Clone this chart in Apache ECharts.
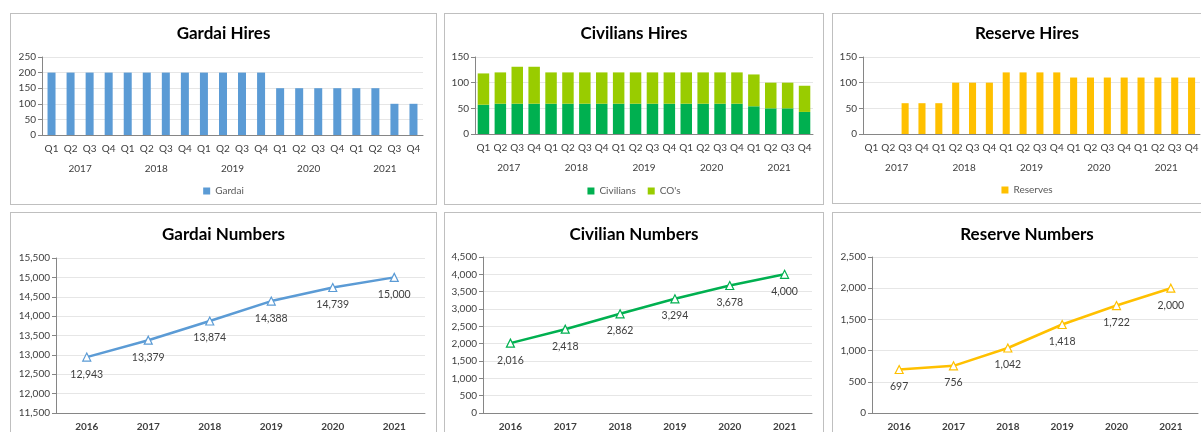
<!DOCTYPE html>
<html>
<head>
<meta charset="utf-8">
<script src="https://cdn.jsdelivr.net/npm/echarts@6/dist/echarts.min.js"></script>
<style>
  html, body { margin: 0; padding: 0; background: #fff; overflow: hidden; width: 1201px; height: 432px; }
  .panel { position: absolute; border: 1px solid #bfbfbf; box-sizing: border-box; background: #fff; }
</style>
</head>
<body>
<div class="panel" id="p1" style="left:10px;top:13px;width:427px;height:192px"></div>
<div class="panel" id="p2" style="left:444px;top:13px;width:380px;height:192px"></div>
<div class="panel" id="p3" style="left:832px;top:13px;width:390px;height:191px"></div>
<div class="panel" id="p4" style="left:10px;top:212px;width:427px;height:240px"></div>
<div class="panel" id="p5" style="left:444px;top:212px;width:380px;height:240px"></div>
<div class="panel" id="p6" style="left:832px;top:212px;width:390px;height:240px"></div>
<script>
// data
var quarters = ['Q1','Q2','Q3','Q4','Q1','Q2','Q3','Q4','Q1','Q2','Q3','Q4','Q1','Q2','Q3','Q4','Q1','Q2','Q3','Q4'];
var hireYears = ['2017','2018','2019','2020','2021'];
var gardaiHires = [200,200,200,200, 200,200,200,200, 200,200,200,200, 150,150,150,150, 150,150,100,100];
var civilianHires = [57,59,59,59, 59,59,59,59, 59,59,59,59, 59,59,59,59, 54,50,50,43];
var coHires = [61,61,72,72, 61,61,61,61, 61,61,61,61, 61,61,61,61, 62,50,50,51];
var reserveHires = [0,0,60,60, 60,100,100,100, 120,120,120,120, 110,110,110,110, 110,110,110,110];

var numYears = ['2016','2017','2018','2019','2020','2021'];
var gardaiNumbers = [12943, 13379, 13874, 14388, 14739, 15000];
var civilianNumbers = [2016, 2418, 2862, 3294, 3678, 4000];
var reserveNumbers = [697, 756, 1042, 1418, 1722, 2000];

var FONT = 'Lato, "Liberation Sans", sans-serif';
var axisGrey = '#868686';
var textGrey = '#595959';

function titleOpt(text, top) {
    return {
        text: text, left: 'center', top: top, padding: 0,
        textStyle: { fontFamily: FONT, fontSize: 17, fontWeight: 'bold', color: '#000' }
    };
}

function hiresChart(elem, title, grid, series, legendNames, yMax, yInt) {
    var chart = echarts.init(elem);
    var option = {
        animation: false,
        title: titleOpt(title, 11),
        legend: {
            data: legendNames, bottom: 3, left: 'center',
            itemWidth: 7, itemHeight: 7, itemGap: 12, icon: 'rect',
            textStyle: { fontFamily: FONT, fontSize: 10, color: textGrey }
        },
        grid: grid,
        xAxis: [
            {
                type: 'category', data: quarters,
                axisLine: { lineStyle: { color: axisGrey } },
                axisTick: { interval: 0, length: 20, lineStyle: { color: '#d0d0d0' } },
                axisLabel: { interval: 0, fontFamily: FONT, fontSize: 10, color: '#404040', margin: 9 }
            },
            {
                type: 'category', data: hireYears, position: 'bottom', offset: 20,
                axisLine: { show: false },
                axisTick: { length: 20, lineStyle: { color: '#d0d0d0' } },
                axisLabel: { fontFamily: FONT, fontSize: 10, color: '#404040', margin: 9 }
            }
        ],
        yAxis: {
            type: 'value', min: 0, max: yMax, interval: yInt,
            axisLine: { show: true, lineStyle: { color: axisGrey } },
            axisTick: { show: true, length: 4, lineStyle: { color: axisGrey } },
            splitLine: { lineStyle: { color: '#e6e6e6' } },
            axisLabel: { fontFamily: FONT, fontSize: 10, color: '#404040', margin: 6 }
        },
        series: series
    };
    chart.setOption(option);
}

function numbersChart(elem, title, grid, values, color, yMin, yMax) {
    var chart = echarts.init(elem);
    var option = {
        animation: false,
        title: titleOpt(title, 13),
        grid: grid,
        xAxis: {
            type: 'category', data: numYears,
            axisLine: { lineStyle: { color: axisGrey } },
            axisTick: { length: 4, lineStyle: { color: axisGrey } },
            axisLabel: { fontFamily: FONT, fontSize: 10, fontWeight: 'bold', color: '#404040', margin: 9 }
        },
        yAxis: {
            type: 'value', min: yMin, max: yMax, interval: 500,
            axisLine: { show: true, lineStyle: { color: axisGrey } },
            axisTick: { show: true, length: 4, lineStyle: { color: axisGrey } },
            splitLine: { lineStyle: { color: '#e6e6e6' } },
            axisLabel: {
                fontFamily: FONT, fontSize: 10, color: '#404040', margin: 6,
                formatter: function (v) { return v.toLocaleString('en-US'); }
            }
        },
        series: [{
            type: 'line', data: values,
            symbol: 'triangle', symbolSize: 8,
            lineStyle: { color: color, width: 2.5 },
            itemStyle: { color: '#fff', borderColor: color, borderWidth: 1.2 },
            label: {
                show: true, position: 'bottom', distance: 7,
                fontFamily: FONT, fontSize: 10.5, color: '#404040',
                formatter: function (p) { return p.value.toLocaleString('en-US'); }
            }
        }]
    };
    chart.setOption(option);
}

hiresChart(document.getElementById('p1'), 'Gardai Hires',
    { left: 31, right: 13, top: 43, height: 78 },
    [{ name: 'Gardai', type: 'bar', data: gardaiHires, barWidth: '42%', itemStyle: { color: '#5B9BD5' } }],
    ['Gardai'], 250, 50);

hiresChart(document.getElementById('p2'), 'Civilians Hires',
    { left: 30, right: 10, top: 43, height: 77 },
    [
        { name: 'Civilians', type: 'bar', stack: 'h', data: civilianHires, barWidth: '68%', itemStyle: { color: '#00B050' } },
        { name: "CO's", type: 'bar', stack: 'h', data: coHires, barWidth: '68%', itemStyle: { color: '#99CC00' } }
    ],
    ['Civilians', "CO's"], 150, 50);

hiresChart(document.getElementById('p3'), 'Reserve Hires',
    { left: 30, right: 21, top: 43, height: 77 },
    [{ name: 'Reserves', type: 'bar', data: reserveHires, barWidth: '42%', itemStyle: { color: '#FFC000' } }],
    ['Reserves'], 150, 50);

numbersChart(document.getElementById('p4'), 'Gardai Numbers',
    { left: 45, right: 11, top: 45, height: 155 },
    gardaiNumbers, '#5B9BD5', 11500, 15500);

numbersChart(document.getElementById('p5'), 'Civilian Numbers',
    { left: 38, right: 11, top: 44, height: 156 },
    civilianNumbers, '#00B050', 0, 4500);

numbersChart(document.getElementById('p6'), 'Reserve Numbers',
    { left: 39, right: 23, top: 44, height: 156 },
    reserveNumbers, '#FFC000', 0, 2500);
</script>
</body>
</html>
